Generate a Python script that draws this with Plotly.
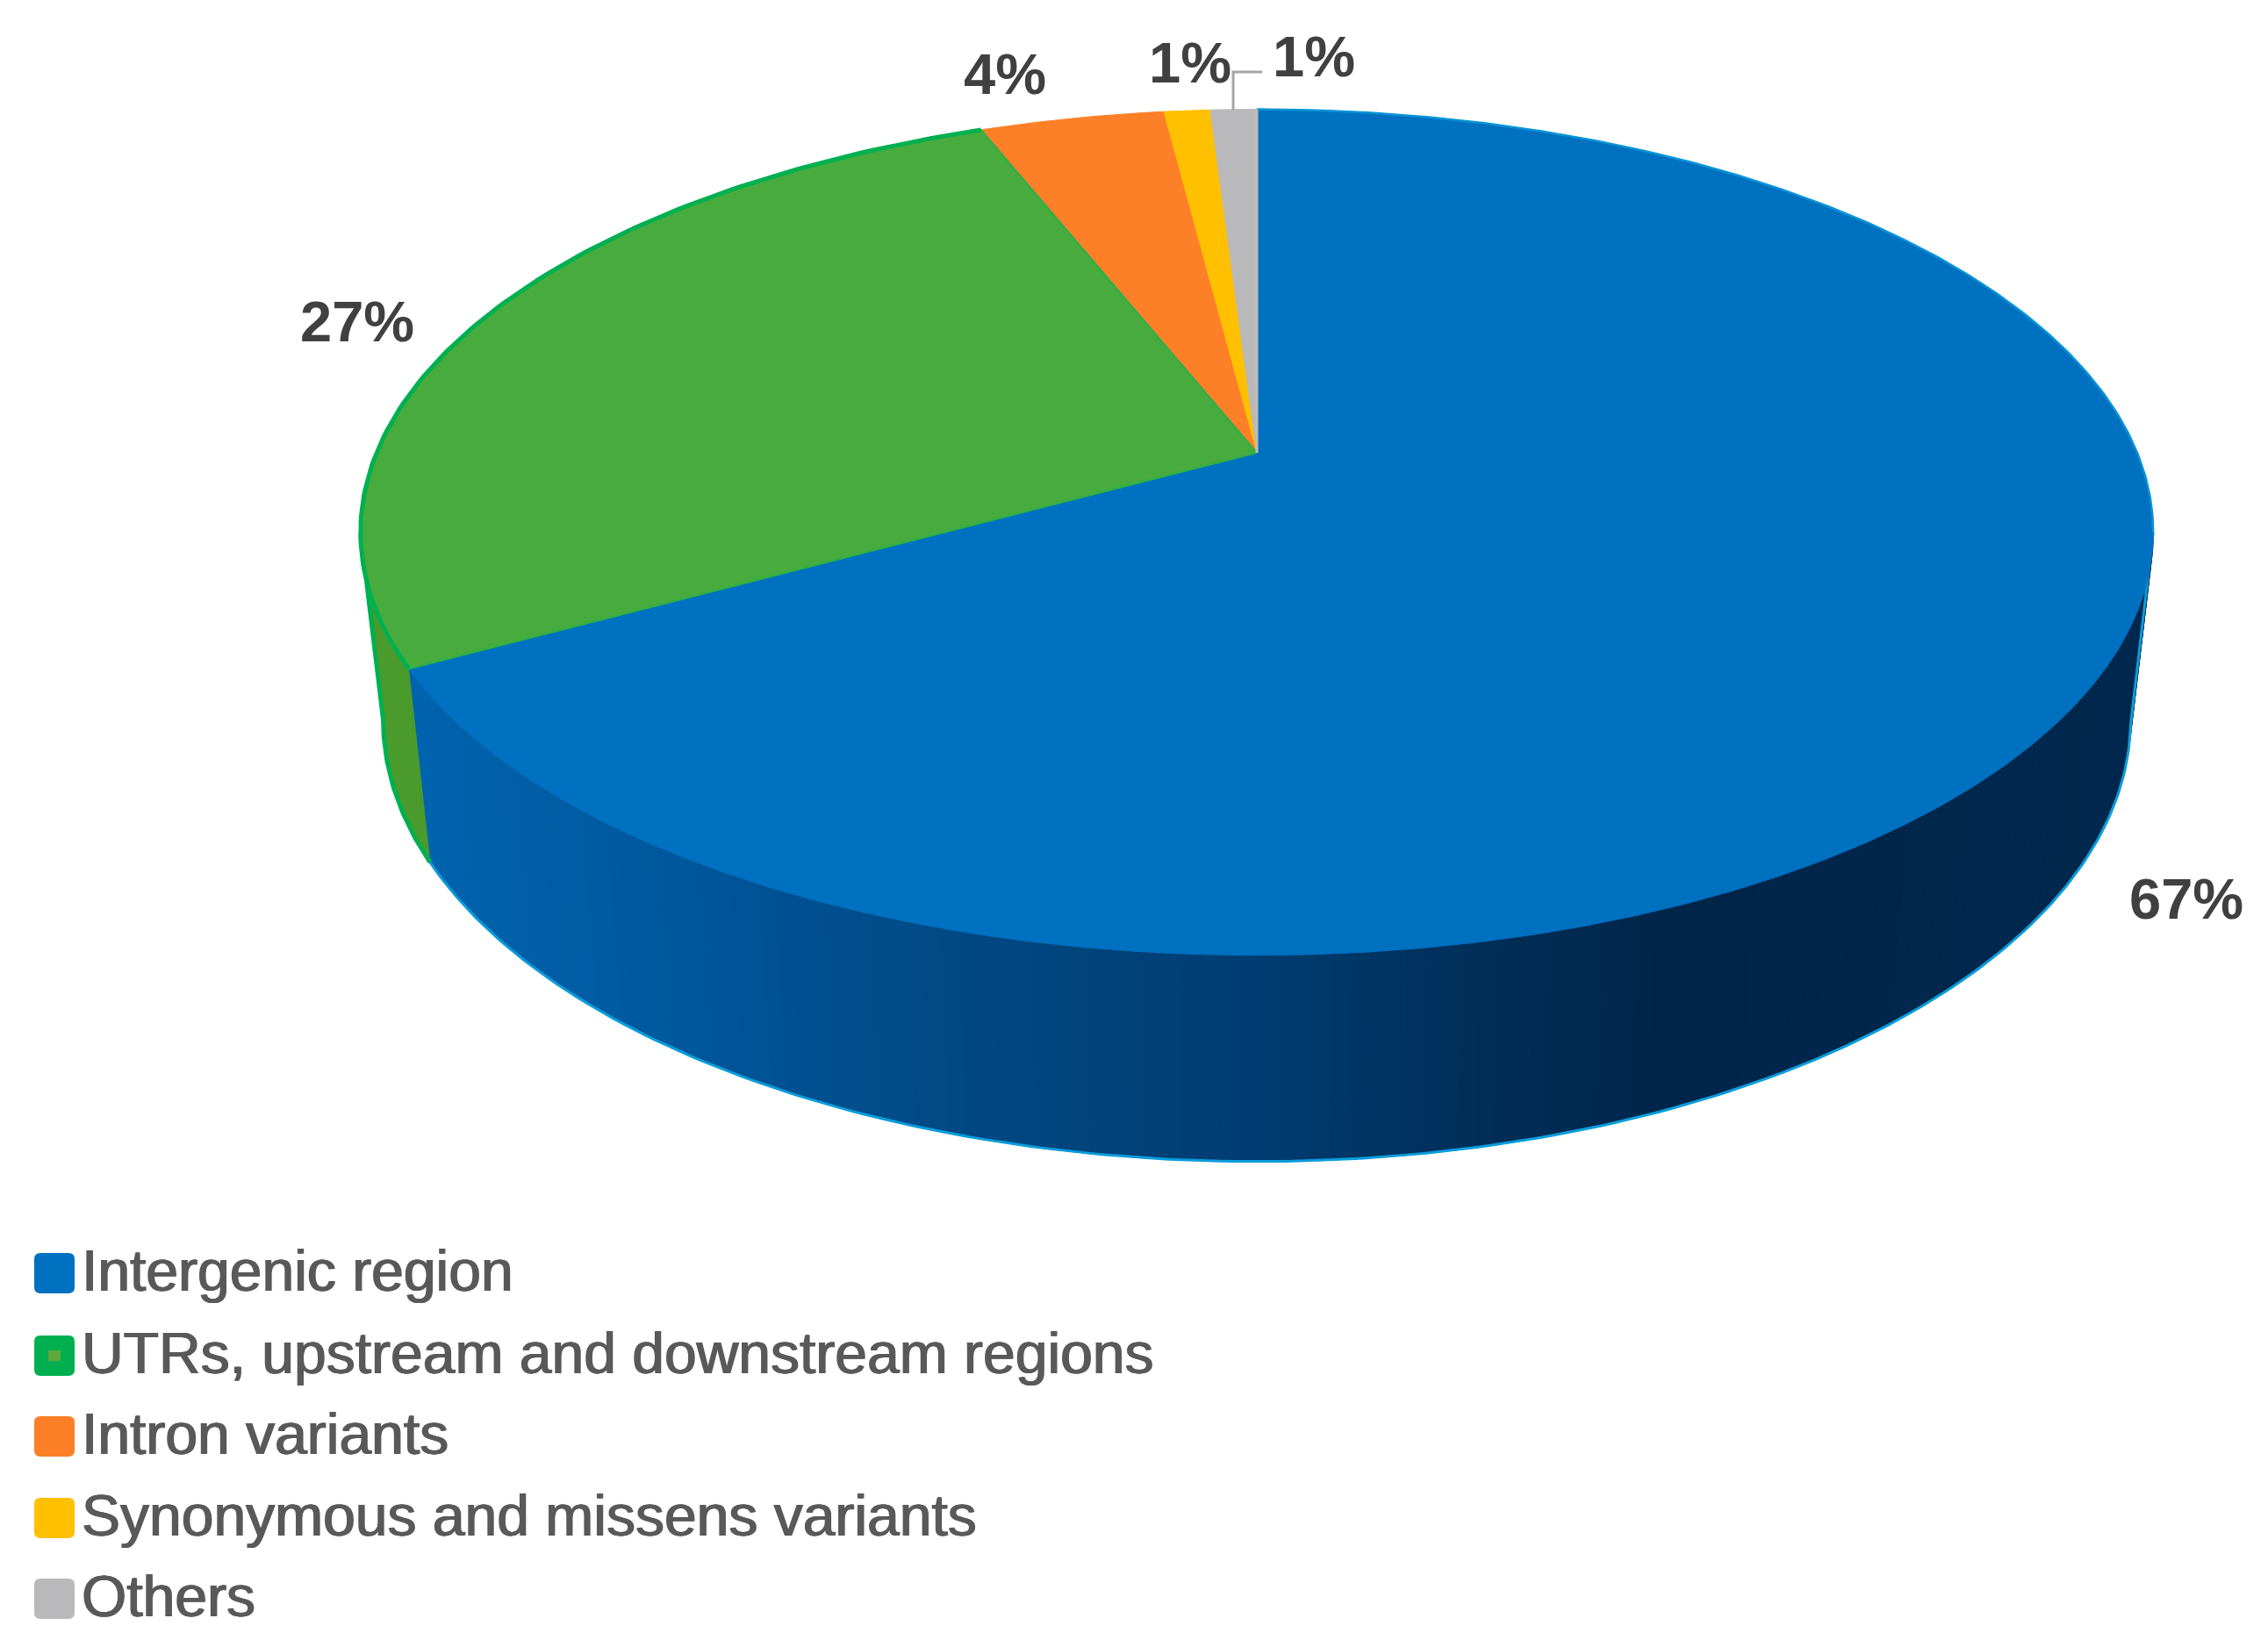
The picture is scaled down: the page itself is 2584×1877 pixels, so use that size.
import numpy as np
import plotly.graph_objects as go

categories = ["Intergenic region", "UTRs, upstream and downstream regions",
              "Intron variants", "Synonymous and missens variants", "Others"]
values = [67, 27, 4, 1, 1]
top_colors = ["#0070c0", "#47ac3d", "#fd7f28", "#ffc000", "#b9b9bb"]
swatch_colors = ["#0070c0", "#00b050", "#fd7f28", "#ffc000", "#b9b9bb"]
label_x = [2491, 407, 1145, 1356, 1497]
label_y = [1024, 366, 84, 71, 64]
legend_y = [1451, 1545, 1637, 1730, 1822]

# perspective model of the pie disc
CX, CY, K, RX, RY = 1432, 516, 0.188, 1003, 465
FRONT_Y, BOTTOM_FRONT_Y, SX, SY = 1088, 1323, 0.9748, 1.045
TANGENT = np.degrees(np.arccos(-K))


def top(t):
    t = np.radians(t)
    w = 1 + K * np.cos(t)
    return CX + RX * np.sin(t) / w, CY - RY * np.cos(t) / w


def bottom(t):
    x, y = top(t)
    return CX + (x - CX) * SX, BOTTOM_FRONT_Y + (y - FRONT_Y) * SY


stops_x = [450, 700, 1000, 1430, 1700, 1900, 2450]
stops_rgb = np.array([[0, 100, 176], [0, 90, 160], [0, 76, 138], [0, 60, 112],
                      [0, 46, 88], [0, 37, 74], [0, 40, 78]])


def wall_color(x):
    r, g, b = (np.interp(x, stops_x, stops_rgb[:, i]) for i in range(3))
    return f"rgb({r:.0f},{g:.0f},{b:.0f})"


edges = np.concatenate([[0], np.cumsum(values)]) * 3.6
fig = go.Figure()

# side wall
blue_end = edges[1]
ts = np.linspace(TANGENT, blue_end, 141)
for a, b in zip(ts[:-1], ts[1:]):
    xa, ya = top(a); xb, yb = top(b)
    xc, yc = bottom(b); xd, yd = bottom(a)
    col = wall_color((xa + xb) / 2)
    fig.add_trace(go.Scatter(x=[xa, xb, xc, xd, xa], y=[ya, yb, yc, yd, ya], mode="lines",
                             fill="toself", fillcolor=col, line=dict(color=col, width=1.5),
                             hoverinfo="skip", showlegend=False))
ts = np.linspace(blue_end, 360 - TANGENT, 30)
xt, yt = top(ts); xb, yb = bottom(ts)
fig.add_trace(go.Scatter(x=np.r_[xt, xb[::-1], xt[0]], y=np.r_[yt, yb[::-1], yt[0]], mode="lines",
                         fill="toself", fillcolor="#4a9a2c", line=dict(color="#4a9a2c", width=1),
                         hoverinfo="skip", showlegend=False))
# wall outlines
ts = np.linspace(TANGENT, blue_end, 200)
xb, yb = bottom(ts)
xt, yt = top(TANGENT)
fig.add_trace(go.Scatter(x=np.r_[xt, xb], y=np.r_[yt, yb], mode="lines",
                         line=dict(color="#0a9ddb", width=3), hoverinfo="skip", showlegend=False))
ts = np.linspace(blue_end, 360 - TANGENT, 40)
xb, yb = bottom(ts)
xt, yt = top(360 - TANGENT)
fig.add_trace(go.Scatter(x=np.r_[xb, xt], y=np.r_[yb, yt], mode="lines",
                         line=dict(color="#00b050", width=5), hoverinfo="skip", showlegend=False))

# top face
for name, a, b, col in zip(categories, edges[:-1], edges[1:], top_colors):
    ts = np.linspace(a, b, max(int((b - a) * 2), 8))
    x, y = top(ts)
    fig.add_trace(go.Scatter(x=np.r_[CX, x, CX], y=np.r_[CY, y, CY], mode="lines", fill="toself",
                             fillcolor=col, line=dict(color=col, width=1), name=name,
                             hoverinfo="name", showlegend=False))
# top edge highlights
ts = np.linspace(edges[0], TANGENT, 200)
x, y = top(ts)
fig.add_trace(go.Scatter(x=x, y=y, mode="lines", line=dict(color="#0a94d6", width=2.5),
                         hoverinfo="skip", showlegend=False))
ts = np.linspace(edges[1], edges[2], 120)
x, y = top(ts)
fig.add_trace(go.Scatter(x=np.r_[CX, x, CX], y=np.r_[CY, y, CY], mode="lines",
                         line=dict(color="#2bb04a", width=2), hoverinfo="skip", showlegend=False))
fig.add_trace(go.Scatter(x=x, y=y, mode="lines",
                         line=dict(color="#00b050", width=5), hoverinfo="skip", showlegend=False))
x, y = top(np.array([360.0]))
fig.add_trace(go.Scatter(x=[CX, x[0]], y=[CY, y[0]], mode="lines",
                         line=dict(color="#c4bcb4", width=3), hoverinfo="skip", showlegend=False))

# leader for the "Others" label
fig.add_trace(go.Scatter(x=[1405, 1405, 1438], y=[126, 82, 82], mode="lines",
                         line=dict(color="#a6a6a6", width=3), hoverinfo="skip", showlegend=False))

# percentage labels
for v, lx, ly in zip(values, label_x, label_y):
    fig.add_annotation(x=lx, y=ly, text=f"<b>{v}%</b>", showarrow=False, xanchor="center", yanchor="middle",
                       font=dict(family="Liberation Sans", size=65, color="#404040"))

# legend
shapes = []
X0, X1, H, RAD = 39, 85, 23, 7
for name, ly, col in zip(categories, legend_y, swatch_colors):
    y0, y1 = ly - H, ly + H
    path = (f"M{X0 + RAD},{y0} L{X1 - RAD},{y0} Q{X1},{y0} {X1},{y0 + RAD} L{X1},{y1 - RAD} "
            f"Q{X1},{y1} {X1 - RAD},{y1} L{X0 + RAD},{y1} Q{X0},{y1} {X0},{y1 - RAD} "
            f"L{X0},{y0 + RAD} Q{X0},{y0} {X0 + RAD},{y0} Z")
    shapes.append(dict(type="path", path=path, xref="x", yref="y", fillcolor=col, line=dict(width=0)))
    fig.add_annotation(x=91, y=ly - 3, text=name, showarrow=False, xanchor="left", yanchor="middle",
                       font=dict(family="Liberation Sans", size=66, color="#595959",
                                 shadow="0.8px 0 0.5px #595959, -0.8px 0 0.5px #595959"))
shapes.append(dict(type="rect", x0=55, x1=69, y0=legend_y[1] - 6, y1=legend_y[1] + 6, xref="x", yref="y",
                   fillcolor="#5fa83c", line=dict(width=0)))

fig.update_layout(width=2584, height=1877, margin=dict(l=0, r=0, t=0, b=0),
                  paper_bgcolor="white", plot_bgcolor="white", shapes=shapes, showlegend=False,
                  xaxis=dict(range=[0, 2584], visible=False, fixedrange=True),
                  yaxis=dict(range=[1877, 0], visible=False, fixedrange=True))
fig.write_html("out.html", config={"displayModeBar": False},
               post_script="document.body.style.margin='0';document.body.style.overflow='hidden';")
